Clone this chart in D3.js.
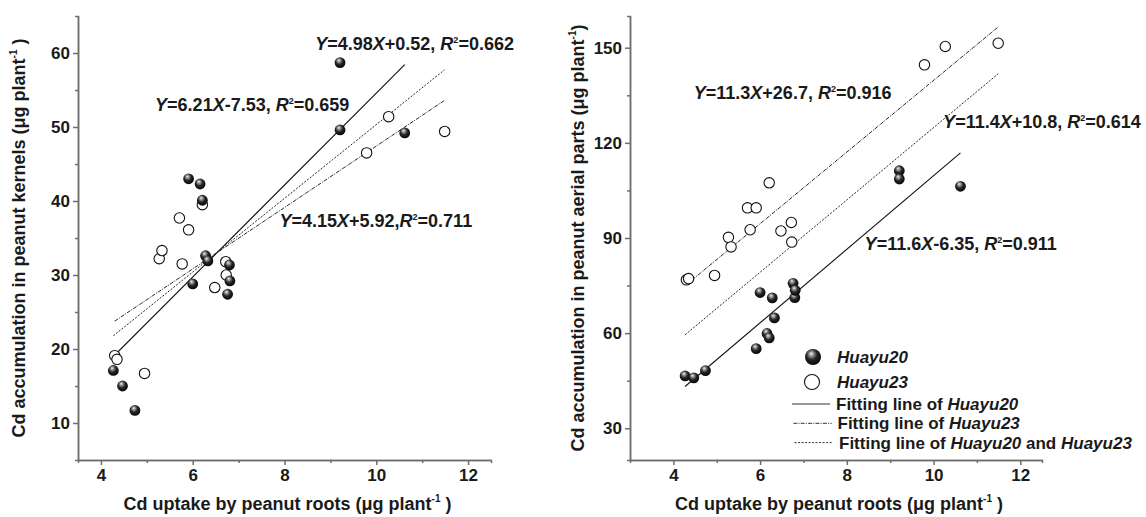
<!DOCTYPE html>
<html lang="en">
<head>
<meta charset="UTF-8">
<title>Cd uptake vs accumulation</title>
<style>
  body { margin: 0; background: #fff; }
  text { font-family: "Liberation Sans", Arial, sans-serif; font-weight: bold; fill: #1a1a1a; }
</style>
</head>
<body>
<script src="https://cdn.jsdelivr.net/npm/d3@7"></script>
<script>
// root uptake (x) shared by both panels
var rootH20 = [4.27, 4.47, 4.74, 5.91, 6.00, 6.16, 6.21, 6.28, 6.33, 6.76, 6.80, 6.81, 9.21, 9.21, 10.62];
var rootH23 = [4.30, 4.35, 4.95, 5.27, 5.33, 5.71, 5.77, 5.91, 6.21, 6.48, 6.72, 6.73, 9.79, 10.27, 11.49];

// kernels
var kernelH20 = [17.1, 15.0, 11.7, 43.0, 28.8, 42.3, 40.1, 32.6, 31.9, 27.4, 31.35, 29.2, 58.7, 49.6, 49.2];
var kernelH23 = [19.1, 18.6, 16.7, 32.2, 33.3, 37.7, 31.5, 36.1, 39.5, 28.3, 31.8, 30.0, 46.5, 51.4, 49.4];

// aerial parts
var aerialH20 = [46.5, 45.9, 48.2, 55.1, 72.8, 59.9, 58.5, 71.1, 64.8, 75.7, 71.2, 73.5, 111.2, 108.6, 106.3];
var aerialH23 = [76.8, 77.2, 78.2, 90.2, 87.2, 99.5, 92.6, 99.5, 107.4, 92.2, 94.9, 88.7, 144.6, 150.4, 151.4];

// fits: [slope, intercept, R2 text], order: Huayu20, Huayu23, both
var kernelFits = [[6.21, -7.53, "0.659"], [4.15, 5.92, "0.711"], [4.98, 0.52, "0.662"]];
var aerialFits = [[11.6, -6.35, "0.911"], [11.3, 26.7, "0.916"], [11.4, 10.8, "0.614"]];

var xTicks = [4, 6, 8, 10, 12];
var xMinor = [5, 7, 9, 11];
var kernelTicks = [10, 20, 30, 40, 50, 60];
var kernelMinor = [15, 25, 35, 45, 55];
var aerialTicks = [30, 60, 90, 120, 150];
var aerialMinor = [45, 75, 105, 135];

var legendLabels = ["Huayu20", "Huayu23"];

var svg = d3.select("body").append("svg").attr("width", 1146).attr("height", 517);

var defs = svg.append("defs");
var grad = defs.append("radialGradient").attr("id", "ball")
    .attr("cx", "45%").attr("cy", "40%").attr("r", "60%")
    .attr("fx", "38%").attr("fy", "28%");
grad.append("stop").attr("offset", "0%").attr("stop-color", "#f2f2f2");
grad.append("stop").attr("offset", "22%").attr("stop-color", "#9a9a9a");
grad.append("stop").attr("offset", "55%").attr("stop-color", "#262626");
grad.append("stop").attr("offset", "100%").attr("stop-color", "#050505");

var dashes = [null, "4,1.2,1,1.2", "2,1.5"];

function panel(opt) {
    var x = d3.scaleLinear().domain(opt.xDomain).range([opt.left, opt.right]);
    var y = d3.scaleLinear().domain(opt.yDomain).range([460, 16]);
    var g = svg.append("g");

    // minor ticks
    g.append("g").attr("transform", "translate(0,460)")
        .call(d3.axisBottom(x).tickValues(xMinor).tickSize(3).tickFormat(""));
    g.append("g").attr("transform", "translate(" + opt.left + ",0)")
        .call(d3.axisLeft(y).tickValues(opt.yMinor).tickSize(3).tickFormat(""));

    var xa = g.append("g").attr("transform", "translate(0,460)")
        .call(d3.axisBottom(x).tickValues(xTicks).tickSize(5).tickSizeOuter(0).tickPadding(4));
    var ya = g.append("g").attr("transform", "translate(" + opt.left + ",0)")
        .call(d3.axisLeft(y).tickValues(opt.yTicks).tickSize(5).tickSizeOuter(0).tickPadding(3));

    g.selectAll(".domain, .tick line").attr("stroke", "#6e6e6e").attr("stroke-width", 1.5);
    xa.selectAll("text").style("font-size", "17px").attr("fill", "#1a1a1a");
    ya.selectAll("text").style("font-size", "17px").attr("fill", "#1a1a1a");

    // fit lines
    var ranges = [d3.extent(rootH20), d3.extent(rootH23), d3.extent(rootH20.concat(rootH23))];
    opt.fits.forEach(function (f, i) {
        var r = ranges[i];
        g.append("line")
            .attr("x1", x(r[0])).attr("y1", y(f[0] * r[0] + f[1]))
            .attr("x2", x(r[1])).attr("y2", y(f[0] * r[1] + f[1]))
            .attr("stroke", "#111").attr("stroke-width", i == 0 ? 1.1 : 0.9)
            .attr("stroke-dasharray", dashes[i]);
    });

    // points
    g.selectAll(".open").data(d3.zip(rootH23, opt.h23)).enter().append("circle")
        .attr("cx", function (d) { return x(d[0]); })
        .attr("cy", function (d) { return y(d[1]); })
        .attr("r", 5.2).attr("fill", "#fff").attr("stroke", "#111").attr("stroke-width", 1.1);
    g.selectAll(".fill").data(d3.zip(rootH20, opt.h20)).enter().append("circle")
        .attr("cx", function (d) { return x(d[0]); })
        .attr("cy", function (d) { return y(d[1]); })
        .attr("r", 5.4).attr("fill", "url(#ball)");

    // equations
    opt.fits.forEach(function (f, i) {
        var p = opt.labelAt[i];
        var t = g.append("text").attr("x", x(p[0])).attr("y", y(p[1])).style("font-size", "18px");
        t.append("tspan").style("font-style", "italic").text("Y");
        t.append("tspan").text("=" + f[0]);
        t.append("tspan").style("font-style", "italic").text("X");
        t.append("tspan").text((f[1] < 0 ? "-" : "+") + Math.abs(f[1]) + (opt.tight[i] ? "," : ", "));
        t.append("tspan").style("font-style", "italic").text("R");
        t.append("tspan").attr("dy", -7).style("font-size", "9px").text("2");
        t.append("tspan").attr("dy", 7).text("=" + f[2]);
    });

    // axis titles
    var xt = g.append("text").attr("x", (opt.left + opt.right) / 2 + 3).attr("y", 510)
        .attr("text-anchor", "middle").style("font-size", "18px");
    xt.append("tspan").text("Cd uptake by peanut roots (\u03bcg plant");
    xt.append("tspan").attr("dy", -8).style("font-size", "10px").text("-1");
    xt.append("tspan").attr("dy", 8).text(" )");

    var yt = g.append("text")
        .attr("transform", "translate(" + opt.yTitleX + ",238) rotate(-90)")
        .attr("text-anchor", "middle").style("font-size", "18px");
    yt.append("tspan").text(opt.yTitle + " (\u03bcg plant");
    yt.append("tspan").attr("dy", -8).style("font-size", "10px").text("-1");
    yt.append("tspan").attr("dy", 8).text(opt.yClose);

    return { x: x, y: y, g: g };
}

panel({
    left: 78, right: 491, xDomain: [3.5, 12.5], yDomain: [5, 65],
    yTicks: kernelTicks, yMinor: kernelMinor,
    h20: kernelH20, h23: kernelH23, fits: kernelFits,
    labelAt: [[5.18, 52.1], [7.89, 36.5], [8.67, 60.4]],
    tight: [false, true, false],
    yTitle: "Cd accumulation in peanut kernels", yClose: " )", yTitleX: 25
});

var right = panel({
    left: 630, right: 1042, xDomain: [3, 12.5], yDomain: [20, 160],
    yTicks: aerialTicks, yMinor: aerialMinor,
    h20: aerialH20, h23: aerialH23, fits: aerialFits,
    labelAt: [[8.41, 86.3], [4.47, 133.7], [10.22, 124.7]],
    tight: [false, false, false],
    yTitle: "Cd accumulation in peanut aerial parts", yClose: ")", yTitleX: 584
});

// legend
var lg = right.g.append("g");
lg.append("circle").attr("cx", 813).attr("cy", 357).attr("r", 8).attr("fill", "url(#ball)");
lg.append("circle").attr("cx", 812).attr("cy", 382).attr("r", 7.5)
    .attr("fill", "#fff").attr("stroke", "#111").attr("stroke-width", 1.1);
legendLabels.forEach(function (s, i) {
    lg.append("text").attr("x", 837).attr("y", 363 + i * 25)
        .style("font-size", "17px").style("font-style", "italic").text(s);
});
var fitRows = [["Huayu20"], ["Huayu23"], ["Huayu20", "Huayu23"]];
fitRows.forEach(function (names, i) {
    var yy = 404 + i * 19.3;
    lg.append("line").attr("x1", 792 + i * 1.3).attr("x2", 830 + i * 1.6)
        .attr("y1", yy).attr("y2", yy)
        .attr("stroke", "#333").attr("stroke-width", 1).attr("stroke-dasharray", dashes[i]);
    var t = lg.append("text").attr("x", 836 + i * 1.5).attr("y", yy + 6).style("font-size", "17px");
    t.append("tspan").text("Fitting line of ");
    t.append("tspan").style("font-style", "italic").text(names[0]);
    if (names.length > 1) {
        t.append("tspan").text(" and ");
        t.append("tspan").style("font-style", "italic").text(names[1]);
    }
});
</script>
</body>
</html>
